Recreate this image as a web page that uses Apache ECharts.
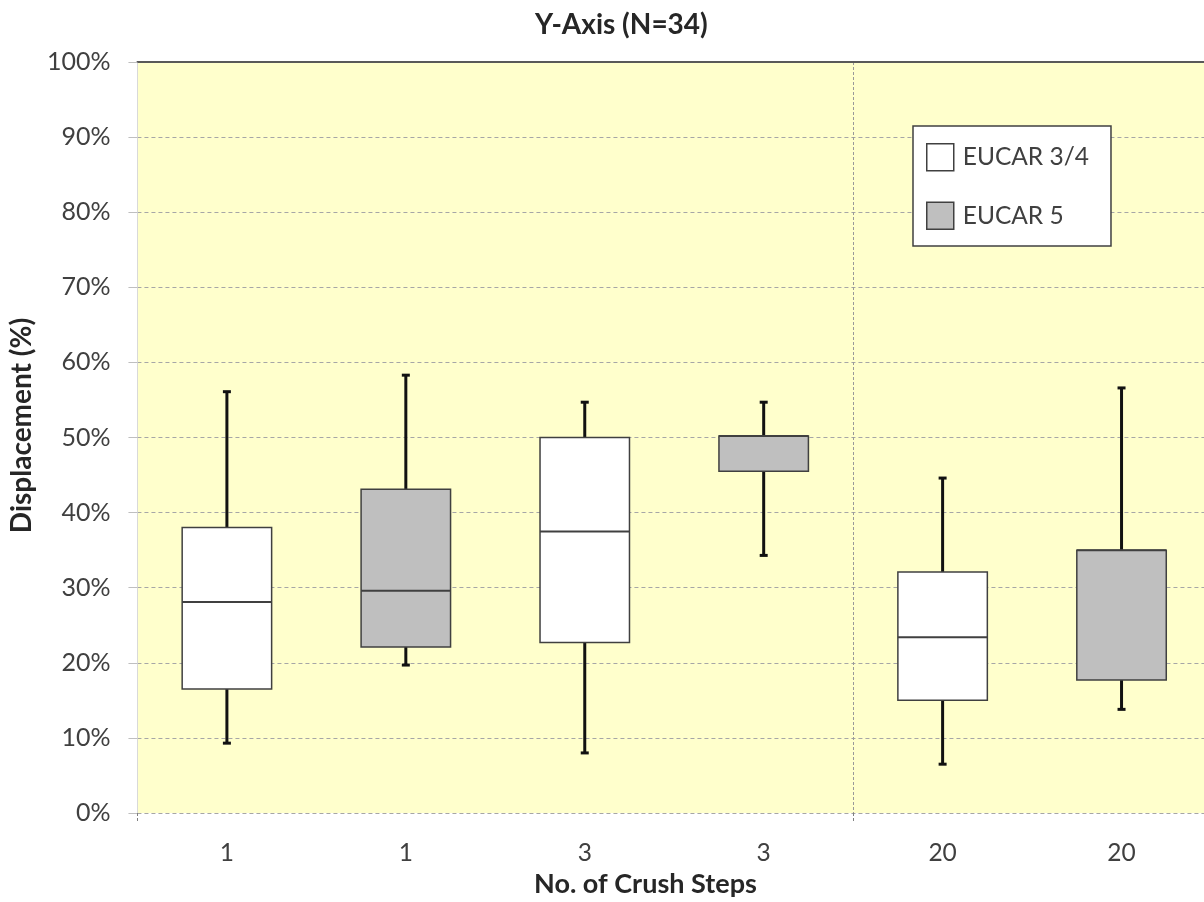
<!DOCTYPE html>
<html>
<head>
<meta charset="utf-8">
<script src="https://cdn.jsdelivr.net/npm/echarts@6/dist/echarts.min.js"></script>
<style>html,body{margin:0;padding:0;background:#fff;overflow:hidden}#c{width:1211px;height:902px}</style>
</head>
<body>
<div id="c"></div>
<script>
// Categories (No. of Crush Steps)
const categories = ['1', '1', '3', '3', '20', '20'];
// Each row: [category index, low whisker, Q1, median, Q3, high whisker] in %
const eucar34 = [
  [0, 9.3, 16.5, 28.1, 38.0, 56.1],
  [2, 8.0, 22.7, 37.5, 50.0, 54.7],
  [4, 6.5, 15.0, 23.4, 32.1, 44.6]
];
const eucar5 = [
  [1, 19.7, 22.1, 29.6, 43.1, 58.3],
  [3, 34.3, 45.5, 50.2, 50.2, 54.7],
  [5, 13.8, 17.7, 35.0, 35.0, 56.6]
];
const yTicks = [0, 10, 20, 30, 40, 50, 60, 70, 80, 90, 100];
// position (in category units) of the dashed separator between step groups
const separatorAt = 4;

const FONT = 'Lato';
const TXT = '#404040';

function renderBox(fill) {
  return function (params, api) {
    const idx = api.value(0);
    const low = api.coord([idx, api.value(1)]);
    const q1 = api.coord([idx, api.value(2)]);
    const med = api.coord([idx, api.value(3)]);
    const q3 = api.coord([idx, api.value(4)]);
    const high = api.coord([idx, api.value(5)]);
    const band = api.size([1, 0])[0];
    const w = band * 0.5;
    const x = low[0];
    const cap = 4;
    const whisk = { stroke: '#111', lineWidth: 3 };
    return {
      type: 'group',
      children: [
        { type: 'line', shape: { x1: x, y1: high[1], x2: x, y2: q3[1] }, style: whisk },
        { type: 'line', shape: { x1: x - cap, y1: high[1], x2: x + cap, y2: high[1] }, style: whisk },
        { type: 'line', shape: { x1: x, y1: q1[1], x2: x, y2: low[1] }, style: whisk },
        { type: 'line', shape: { x1: x - cap, y1: low[1], x2: x + cap, y2: low[1] }, style: whisk },
        { type: 'rect', shape: { x: x - w / 2, y: q3[1], width: w, height: q1[1] - q3[1] },
          style: { fill: fill, stroke: '#404040', lineWidth: 1.5 } },
        { type: 'line', shape: { x1: x - w / 2, y1: med[1], x2: x + w / 2, y2: med[1] },
          style: { stroke: '#404040', lineWidth: 2 } }
      ]
    };
  };
}

const chart = echarts.init(document.getElementById('c'), null, { renderer: 'canvas' });
chart.setOption({
  animation: false,
  backgroundColor: '#ffffff',
  title: [
    { text: 'Y-Axis (N=34)', left: 535, top: 11, padding: 0,
      textStyle: { fontFamily: FONT, fontSize: 28, fontWeight: 'bold', color: '#262626' } },
    { text: 'No. of Crush Steps', left: 534, top: 871, padding: 0,
      textStyle: { fontFamily: FONT, fontSize: 27, fontWeight: 'bold', color: '#262626' } }
  ],
  legend: {
    orient: 'vertical',
    left: 913, top: 126,
    padding: [17, 22, 16, 13],
    itemWidth: 27, itemHeight: 27, itemGap: 30,
    backgroundColor: '#ffffff',
    borderColor: '#404040', borderWidth: 1.5, borderRadius: 0,
    icon: 'rect',
    textStyle: { fontFamily: FONT, fontSize: 24.5, color: TXT, padding: [0, 0, 0, 4] },
    data: [
      { name: 'EUCAR 3/4', itemStyle: { color: '#ffffff', borderColor: '#404040', borderWidth: 1.5 } },
      { name: 'EUCAR 5', itemStyle: { color: '#bfbfbf', borderColor: '#404040', borderWidth: 1.5 } }
    ]
  },
  grid: {
    left: 137, top: 62, right: 0, bottom: 89,
    show: true, backgroundColor: '#ffffcc', borderWidth: 0
  },
  xAxis: [
    {
      type: 'category', data: categories, boundaryGap: true,
      axisLine: { show: false },
      axisTick: { show: false },
      axisLabel: { margin: 28, fontFamily: FONT, fontSize: 24.5, color: TXT },
      splitLine: { show: false }
    },
    {
      type: 'category', data: categories, position: 'top',
      axisLine: { show: true, lineStyle: { color: '#595959', width: 2 } },
      axisTick: { show: false }, axisLabel: { show: false }, splitLine: { show: false }
    },
    {
      type: 'value', position: 'bottom', min: 0, max: categories.length, interval: separatorAt,
      axisLine: { show: false },
      axisLabel: { show: false },
      axisTick: { show: true, length: 9, lineStyle: { color: '#808080', type: [3, 2] } },
      splitLine: { show: true, lineStyle: { color: '#999999', type: [3, 2], width: 1 } }
    }
  ],
  yAxis: {
    type: 'value', min: 0, max: 100, interval: 10,
    name: 'Displacement (%)', nameLocation: 'middle', nameGap: 97,
    nameTextStyle: { fontFamily: FONT, fontSize: 28, fontWeight: 'bold', color: '#262626',
      padding: [0, 0, 0, 24] },
    axisLine: { show: true, lineStyle: { color: '#d9d9d9', width: 1 } },
    axisTick: { show: true, length: 9, lineStyle: { color: '#bfbfbf' } },
    axisLabel: { margin: 27, fontFamily: FONT, fontSize: 25, color: TXT,
      formatter: (v) => yTicks.includes(v) ? v + '%' : '' },
    splitLine: { show: true, lineStyle: { color: '#a6a6a6', type: [4, 3], width: 1 } }
  },
  series: [
    { name: 'EUCAR 3/4', type: 'custom', xAxisIndex: 0, data: eucar34,
      itemStyle: { color: '#ffffff', borderColor: '#404040' },
      encode: { x: 0, y: [1, 2, 3, 4, 5] }, renderItem: renderBox('#ffffff'), z: 5 },
    { name: 'EUCAR 5', type: 'custom', xAxisIndex: 0, data: eucar5,
      itemStyle: { color: '#bfbfbf', borderColor: '#404040' },
      encode: { x: 0, y: [1, 2, 3, 4, 5] }, renderItem: renderBox('#bfbfbf'), z: 5 }
  ]
});
</script>
</body>
</html>
